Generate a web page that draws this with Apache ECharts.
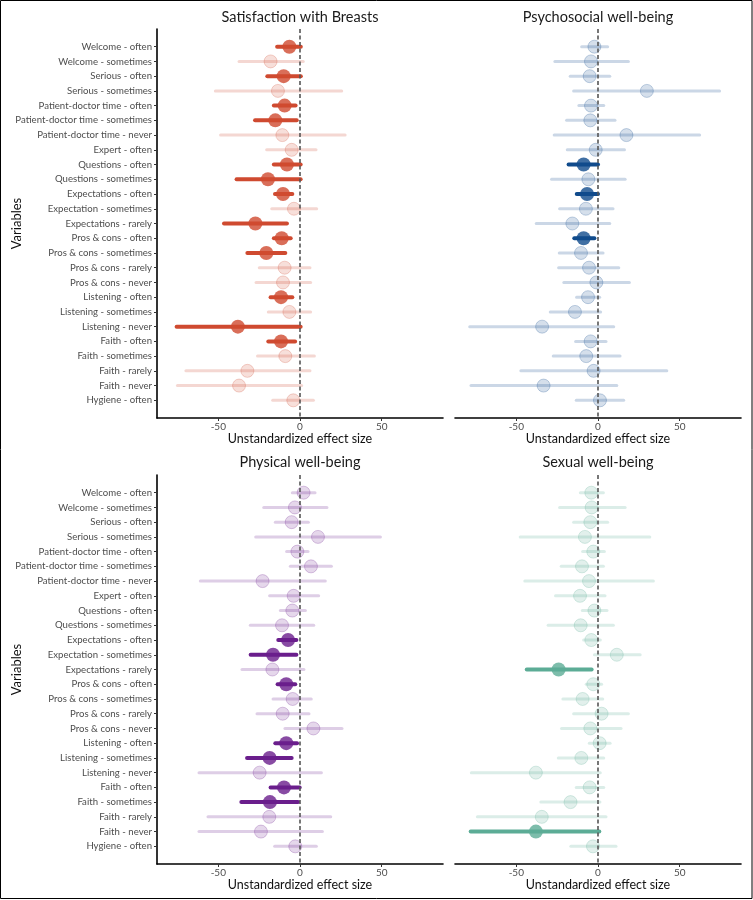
<!DOCTYPE html>
<html>
<head>
<meta charset="utf-8">
<script src="https://cdn.jsdelivr.net/npm/echarts@6/dist/echarts.min.js"></script>
<style>html,body{margin:0;padding:0;background:#fff}#c{width:753px;height:900px}</style>
</head>
<body>
<div id="c"></div>
<script>
const categories = ["Welcome - often","Welcome - sometimes","Serious - often","Serious - sometimes","Patient-doctor time - often","Patient-doctor time - sometimes","Patient-doctor time - never","Expert - often","Questions - often","Questions - sometimes","Expectations - often","Expectation - sometimes","Expectations - rarely","Pros & cons - often","Pros & cons - sometimes","Pros & cons - rarely","Pros & cons - never","Listening - often","Listening - sometimes","Listening - never","Faith - often","Faith - sometimes","Faith - rarely","Faith - never","Hygiene - often"];
const panelTitles = ["Satisfaction with Breasts","Psychosocial well-being","Physical well-being","Sexual well-being"];
const xTicks = [-50, 0, 50];

const satEst = [-6.5,-18,-10,-13.5,-9.4,-15.1,-10.8,-5.1,-8,-19.6,-10.4,-3.7,-27.3,-11.2,-20.6,-9.4,-10.4,-11.6,-6.5,-38,-11.6,-9,-32.2,-37.3,-4.1];
const satLo  = [-14,-37.3,-20,-51.8,-16,-27.5,-48.6,-20.4,-16,-38.8,-15.3,-17.3,-46.5,-16,-32.2,-24.9,-26.9,-18,-19.4,-75.5,-19.4,-26,-69.8,-75,-16.7];
const satHi  = [0.5,2,0.5,25.5,-2.7,-2,27.6,9.8,0.4,0.4,-4.7,10.2,-8,-5.7,-9,6.1,6.5,-4.7,6.5,0.4,-3,8.8,6.1,1,8.2];
const satSig = [1,0,1,0,1,1,0,0,1,1,1,0,1,1,1,0,0,1,0,1,1,0,0,0,0];

const psyEst = [-2.2,-4.3,-5.1,29.9,-4.3,-4.7,17.4,-1.4,-8.8,-5.9,-6.7,-7.4,-15.7,-8.8,-10.4,-5.5,-1,-6.1,-14.1,-34.2,-4.5,-7.2,-2.7,-33.3,1.2];
const psyLo  = [-10,-26.4,-17,-14.9,-11.7,-19.2,-26.8,-18.8,-18,-28.4,-13,-23.5,-37.8,-14.5,-23.7,-24.1,-20.9,-13.1,-29.2,-78.5,-13.7,-27.4,-47.2,-77.7,-13.3];
const psyHi  = [5.9,18.6,7.2,74.4,3.5,10.4,62.2,16.2,0,16.6,0,9.2,7.2,-2.2,3.1,12.7,19.2,1,1.6,9.6,4.9,13.5,42.1,11.5,15.7];
const psySig = [0,0,0,0,0,0,0,0,1,0,1,0,0,1,0,0,0,0,0,0,0,0,0,0,0];

const phyEst = [2.2,-3.1,-5.1,11,-1.6,6.7,-22.9,-3.9,-4.7,-11,-7.3,-16.5,-16.9,-8.4,-4.5,-10.6,8.2,-8.4,-18.6,-24.7,-9.8,-18.4,-18.8,-23.9,-2.9];
const phyLo  = [-4.7,-22.2,-15.1,-27.1,-8.2,-5.9,-61,-18.6,-12,-30.4,-13.3,-30.2,-35.5,-13.7,-16.5,-26.3,-9.2,-15.1,-32.4,-61.8,-18,-35.9,-56.3,-61.8,-15.5];
const phyHi  = [9.2,16.5,5.1,49.2,4.9,19.2,15.5,11.4,3.3,8.4,-2.2,-2.2,2.4,-2.9,6.9,5.5,25.7,-1.8,-5.1,13.1,-0.2,-1.2,18.8,13.7,10];
const phySig = [0,0,0,0,0,0,0,0,0,0,1,1,0,1,0,0,0,1,1,0,1,1,0,0,0];

const sexEst = [-4.1,-3.9,-4.7,-8,-2.9,-9.8,-5.5,-11,-2.2,-10.6,-4.1,11.5,-24.1,-2.9,-9.4,2.2,-4.7,1,-10.2,-38,-5.1,-16.8,-34.4,-38,-3.1];
const sexLo  = [-10.8,-23.5,-14.9,-47.6,-9.4,-22.5,-44.8,-26,-9.6,-30.5,-8.8,-2.2,-43.6,-7.2,-21.5,-14.9,-22.3,-5.3,-24.3,-77.5,-13.3,-35,-73.8,-77.9,-16.6];
const sexHi  = [3.3,16.6,5.9,31.7,3.9,3.3,33.9,4.3,5.5,9.4,1.4,25.8,-3.9,2.2,2.9,18.6,14.1,7.4,3.5,1.4,3.5,1.2,4.9,0.8,11];
const sexSig = [0,0,0,0,0,0,0,0,0,0,0,0,1,0,0,0,0,0,0,0,0,0,0,1,0];

const panels = [
  {est: satEst, lo: satLo, hi: satHi, sig: satSig, rgb: [207,74,48]},
  {est: psyEst, lo: psyLo, hi: psyHi, sig: psySig, rgb: [16,75,140]},
  {est: phyEst, lo: phyLo, hi: phyHi, sig: phySig, rgb: [106,30,140]},
  {est: sexEst, lo: sexLo, hi: sexHi, sig: sexSig, rgb: [92,172,150]}
];

const FONT = 'Lato';
const gridPos = [
  {left: 157, top: 29, width: 286, height: 389},
  {left: 455, top: 29, width: 286, height: 389},
  {left: 157, top: 475, width: 286, height: 389},
  {left: 455, top: 475, width: 286, height: 389}
];
const idxs = categories.map((_, i) => i);

const grid = [], xAxis = [], yAxis = [], series = [];
const rgba = (c, a) => `rgba(${c[0]},${c[1]},${c[2]},${a})`;

panels.forEach((p, g) => {
  const isLeft = g % 2 === 0;
  grid.push(Object.assign({containLabel: false, outerBoundsMode: 'none'}, gridPos[g]));
  xAxis.push({
    gridIndex: g, type: 'value', min: -87.5, max: 87.5,
    splitLine: {show: false},
    axisLine: {show: true, onZero: false, lineStyle: {color: '#000', width: 1.6}},
    axisTick: {show: true, customValues: xTicks, length: 3, lineStyle: {color: '#333'}},
    axisLabel: {customValues: xTicks, fontSize: 10, color: '#4d4d4d', margin: 4, fontFamily: FONT},
    name: 'Unstandardized effect size', nameLocation: 'middle', nameGap: 14, nameMoveOverlap: false,
    nameTextStyle: {fontSize: 12.5, color: '#111', fontFamily: FONT}
  });
  yAxis.push({
    gridIndex: g, type: 'value', inverse: true, min: -1.2, max: 25.2,
    splitLine: {show: false},
    axisLine: {show: isLeft, onZero: false, lineStyle: {color: '#000', width: 1.6}},
    axisTick: {show: isLeft, customValues: idxs, length: 3, lineStyle: {color: '#333'}},
    axisLabel: {show: isLeft, customValues: idxs, formatter: v => categories[v] || '', fontSize: 9.6, color: '#4d4d4d', margin: 5, fontFamily: FONT},
    name: isLeft ? 'Variables' : '', nameLocation: 'middle', nameGap: 134, nameRotate: 90, nameMoveOverlap: false,
    nameTextStyle: {fontSize: 13, color: '#111', fontFamily: FONT}
  });
  const faded = idxs.filter(i => !p.sig[i]);
  const dark = idxs.filter(i => p.sig[i]);
  const ciSeries = (list, col, w, z) => ({
    type: 'custom', xAxisIndex: g, yAxisIndex: g, z: z, silent: true,
    data: list.map(i => [p.lo[i], p.hi[i], i]),
    encode: {x: [0, 1], y: 2},
    renderItem: (params, api) => {
      const a = api.coord([api.value(0), api.value(2)]);
      const b = api.coord([api.value(1), api.value(2)]);
      return {type: 'line', shape: {x1: a[0], y1: a[1], x2: b[0], y2: b[1]},
        style: {stroke: col, lineWidth: w, lineCap: 'round'}};
    }
  });
  series.push(ciSeries(faded, rgba(p.rgb, 0.22), 3, 1));
  series.push({
    type: 'scatter', xAxisIndex: g, yAxisIndex: g, z: 2, silent: true,
    symbolSize: 13,
    data: faded.map(i => [p.est[i], i]),
    itemStyle: {color: rgba(p.rgb, 0.22), borderColor: rgba(p.rgb, 0.3), borderWidth: 1}
  });
  series.push({
    type: 'scatter', xAxisIndex: g, yAxisIndex: g, z: 3, data: [], silent: true,
    markLine: {silent: true, symbol: 'none', label: {show: false},
      lineStyle: {color: '#555', type: [4, 2.5], width: 1.6},
      data: [{xAxis: 0}]}
  });
  series.push(ciSeries(dark, rgba(p.rgb, 1), 4, 4));
  series.push({
    type: 'scatter', xAxisIndex: g, yAxisIndex: g, z: 5, silent: true,
    symbolSize: 14,
    data: dark.map(i => [p.est[i], i]),
    itemStyle: {color: rgba(p.rgb, 1)}
  });
});

const titlePos = [[300, 17], [598, 17], [300, 462], [598, 462]];
const graphic = [
  {type: 'rect', shape: {x: 0.5, y: 0.5, width: 751.5, height: 898}, style: {fill: 'none', stroke: '#000', lineWidth: 1}, silent: true}
].concat(panelTitles.map((t, i) => ({
  type: 'text', x: titlePos[i][0], y: titlePos[i][1], silent: true,
  style: {text: t, fontSize: 14.5, fill: '#1a1a1a', fontFamily: FONT, align: 'center', verticalAlign: 'middle'}
})));

const chart = echarts.init(document.getElementById('c'), null, {renderer: 'canvas'});
chart.setOption({
  animation: false,
  textStyle: {fontFamily: FONT},
  grid, xAxis, yAxis, series, graphic
});
</script>
</body>
</html>
